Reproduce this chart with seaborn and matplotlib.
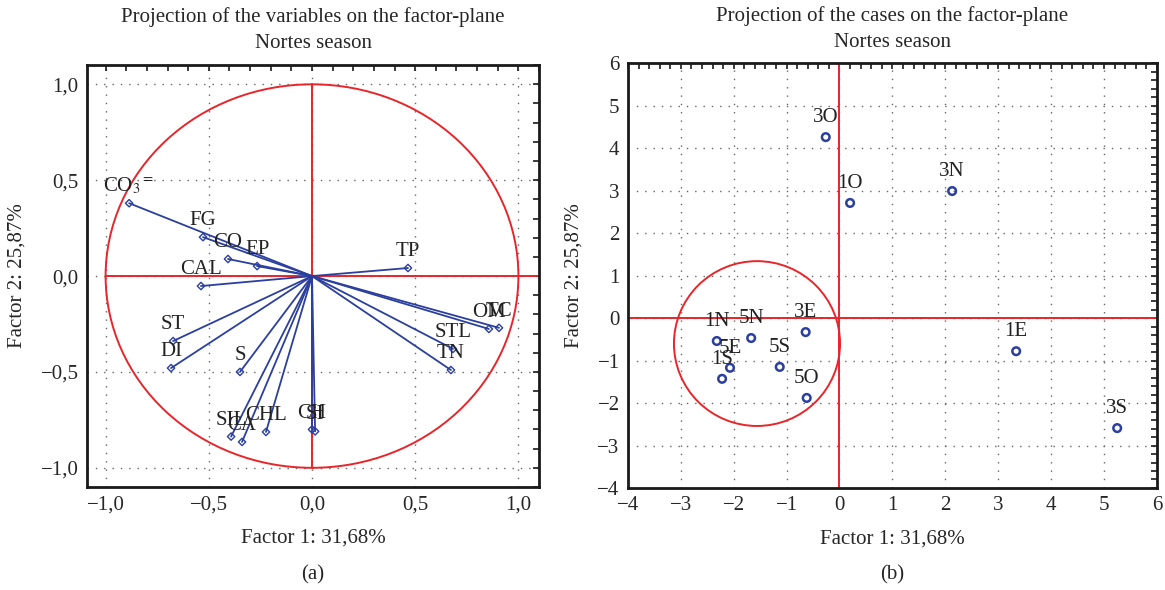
import numpy as np
import pandas as pd
import matplotlib
matplotlib.use("Agg")
import matplotlib.pyplot as plt
from matplotlib.patches import Ellipse
from matplotlib.ticker import MultipleLocator, FuncFormatter
import seaborn as sns

# ---- data ----
var_names = [r"CO$_3$$^{=}$", "FG", "CO", "EP", "CAL", "TP", "OM", "TC", "STL", "TN",
             "ST", "DI", "S", "SIL", "CA", "CHL", "CH", "SI"]
var_x = [-0.886, -0.528, -0.407, -0.266, -0.538, 0.465, 0.857, 0.906, 0.683, 0.673,
         -0.673, -0.683, -0.349, -0.392, -0.339, -0.223, 0.000, 0.015]
var_y = [0.380, 0.203, 0.089, 0.052, -0.052, 0.042, -0.276, -0.270, -0.380, -0.490,
         -0.339, -0.480, -0.500, -0.837, -0.865, -0.813, -0.800, -0.810]

case_names = ["3O", "1O", "3N", "3E", "1N", "5N", "5E", "1S", "5S", "5O", "1E", "3S"]
case_x = [-0.26, 0.20, 2.13, -0.64, -2.32, -1.67, -2.07, -2.22, -1.13, -0.62, 3.34, 5.25]
case_y = [4.26, 2.71, 2.99, -0.33, -0.54, -0.47, -1.17, -1.43, -1.15, -1.88, -0.78, -2.59]

title_left = "Projection of the variables on the factor-plane\nNortes season"
title_right = "Projection of the cases on the factor-plane\nNortes season"
xlabel = "Factor 1: 31,68%"
ylabel = "Factor 2: 25,87%"

# ---- style ----
sns.set_theme(style="white")
plt.rcParams["font.family"] = ["Liberation Serif", "DejaVu Serif"]
plt.rcParams["mathtext.fontset"] = "stix"

BLUE = "#2b3f9e"
RED = "#e8252a"
FS = 15

fig = plt.figure(figsize=(11.65, 5.9), dpi=100)
axL = fig.add_axes([0.0747, 0.1746, 0.388, 0.715])
axR = fig.add_axes([0.539, 0.1729, 0.454, 0.720])

def comma(v, pos):
    s = f"{v:.1f}".replace(".", ",")
    return s.replace("-", "\u2212")

def comma_int(v, pos):
    return f"{int(round(v))}".replace("-", "\u2212")

def style_axes(ax):
    for sp in ax.spines.values():
        sp.set_color("#1a1a1a")
        sp.set_linewidth(2.0)
    ax.tick_params(which="both", direction="in", top=True, right=True,
                   length=4, width=1.2, color="#1a1a1a", labelsize=FS, pad=6)
    ax.grid(True, which="major", linestyle=(0, (1, 5)), color="#666666", linewidth=1.0)
    ax.set_axisbelow(True)
    ax.set_xlabel(xlabel, fontsize=FS, labelpad=10)
    ax.set_ylabel(ylabel, fontsize=FS, labelpad=10)

# ---- left: variables ----
dfv = pd.DataFrame({"name": var_names, "x": var_x, "y": var_y})
axL.set_xlim(-1.09, 1.10)
axL.set_ylim(-1.10, 1.10)
axL.add_patch(Ellipse((0, 0), 2, 2, fill=False, edgecolor=RED, linewidth=1.4, zorder=2))
axL.plot([-1.0, 1.10], [0, 0], color=RED, linewidth=1.4, zorder=2)
axL.plot([0, 0], [-1.0, 1.0], color=RED, linewidth=1.4, zorder=2)
for _, r in dfv.iterrows():
    axL.plot([0, r.x], [0, r.y], color=BLUE, linewidth=1.3, zorder=3)
sns.scatterplot(data=dfv, x="x", y="y", ax=axL, marker="D", s=14,
                facecolor="none", edgecolor=BLUE, linewidth=1.0, zorder=4, legend=False)
for _, r in dfv.iterrows():
    axL.annotate(r["name"], (r.x, r.y), xytext=(0, 5), textcoords="offset points",
                 ha="center", va="bottom", fontsize=FS, color="#222222", zorder=5)
axL.xaxis.set_major_locator(MultipleLocator(0.5))
axL.yaxis.set_major_locator(MultipleLocator(0.5))
axL.xaxis.set_minor_locator(MultipleLocator(0.1))
axL.yaxis.set_minor_locator(MultipleLocator(0.1))
axL.xaxis.set_major_formatter(FuncFormatter(comma))
axL.yaxis.set_major_formatter(FuncFormatter(comma))
style_axes(axL)
axL.set_title(title_left, fontsize=FS, pad=12, linespacing=1.5)

# ---- right: cases ----
dfc = pd.DataFrame({"name": case_names, "x": case_x, "y": case_y})
axR.set_xlim(-4, 6)
axR.set_ylim(-4, 6)
axR.axhline(0, color=RED, linewidth=1.4, zorder=2)
axR.axvline(0, color=RED, linewidth=1.4, zorder=2)
axR.add_patch(Ellipse((-1.56, -0.60), 3.14, 3.88, fill=False, edgecolor=RED,
                      linewidth=1.4, zorder=2))
sns.scatterplot(data=dfc, x="x", y="y", ax=axR, marker="o", s=30,
                facecolor="none", edgecolor=BLUE, linewidth=1.8, zorder=4, legend=False)
for _, r in dfc.iterrows():
    axR.annotate(r["name"], (r.x, r.y), xytext=(0, 7), textcoords="offset points",
                 ha="center", va="bottom", fontsize=FS, color="#222222", zorder=5)
axR.xaxis.set_major_locator(MultipleLocator(1))
axR.yaxis.set_major_locator(MultipleLocator(1))
axR.xaxis.set_minor_locator(MultipleLocator(0.2))
axR.yaxis.set_minor_locator(MultipleLocator(0.2))
axR.xaxis.set_major_formatter(FuncFormatter(comma_int))
axR.yaxis.set_major_formatter(FuncFormatter(comma_int))
style_axes(axR)
axR.set_title(title_right, fontsize=FS, pad=12, linespacing=1.5)

# captions
fig.text(313 / 1165, 1 - 575 / 590, "(a)", ha="center", va="center", fontsize=FS)
fig.text(892 / 1165, 1 - 575 / 590, "(b)", ha="center", va="center", fontsize=FS)

fig.savefig("out.png", dpi=100)
